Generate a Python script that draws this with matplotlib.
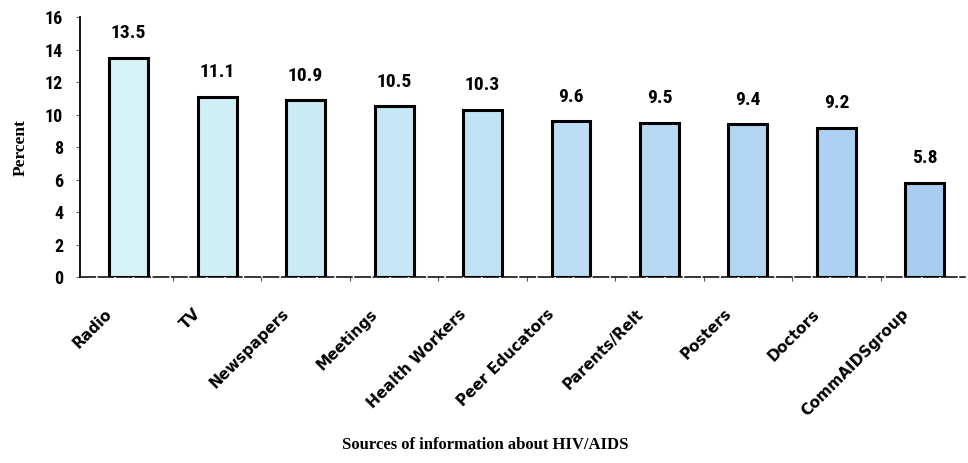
import numpy as np
import matplotlib.pyplot as plt
from matplotlib.colors import LinearSegmentedColormap
from matplotlib.transforms import ScaledTranslation

# sources of HIV/AIDS information and percent of respondents
sources = ["Radio", "TV", "Newspapers", "Meetings", "Health Workers",
           "Peer Educators", "Parents/Relt", "Posters", "Doctors", "CommAIDSgroup"]
percent = [13.5, 11.1, 10.9, 10.5, 10.3, 9.6, 9.5, 9.4, 9.2, 5.8]
yticks = [0, 2, 4, 6, 8, 10, 12, 14, 16]

narrow = ["Roboto Condensed", "DejaVu Sans"]
serif = ["Liberation Serif", "DejaVu Serif"]

fig = plt.figure(figsize=(9.68, 4.63), dpi=100)
ax = fig.add_axes([0.0826, 0.4017, 0.914, 0.5613])

# bars fade from pale cyan to light blue
cmap = LinearSegmentedColormap.from_list("fade", ["#d5f2f7", "#a8cdf0"])
x = np.arange(len(sources))
colors = [cmap(i / (len(sources) - 1)) for i in x]
ax.bar(x, percent, width=0.44, color=colors, edgecolor="black", linewidth=2.2, zorder=3)

for xi, v in zip(x, percent):
    ax.text(xi, v + 0.95, f"{v}", ha="center", va="bottom", fontsize=14,
            fontweight="bold", family=narrow)

ax.set_xlim(-0.55, 9.45)
ax.set_ylim(0, 16)
ax.set_yticks(yticks)
ax.set_yticklabels([str(t) for t in yticks], fontsize=13, fontweight="bold", family=narrow)
ax.tick_params(axis="y", length=3, width=0.8, color="#666666", pad=9)

# category labels hang below the axis, ticks sit between bars
ax.set_xticks(x)
ax.set_xticklabels(sources, rotation=45, ha="right", va="top", rotation_mode="anchor",
                   fontsize=11, fontweight="bold", family="DejaVu Sans")
ax.tick_params(axis="x", length=0, pad=21)
shift = ScaledTranslation(-0.24, 0, fig.dpi_scale_trans)
for lab in ax.get_xticklabels():
    lab.set_transform(lab.get_transform() + shift)
ax.set_xticks(x[:-1] + 0.5, minor=True)
ax.tick_params(axis="x", which="minor", length=3, width=0.8, color="#555555")

for side in ["top", "right"]:
    ax.spines[side].set_visible(False)
ax.spines["left"].set_linewidth(1.3)
ax.spines["bottom"].set_linewidth(1.1)
ax.spines["bottom"].set_linestyle((0, (10, 2)))

ax.set_ylabel("Percent", fontsize=12.5, fontweight="bold", family=serif, labelpad=12)
fig.text(0.501, 0.022, "Sources of information about HIV/AIDS", ha="center", va="bottom",
         fontsize=12, fontweight="bold", family=serif)

fig.savefig("out.png", dpi=100)
